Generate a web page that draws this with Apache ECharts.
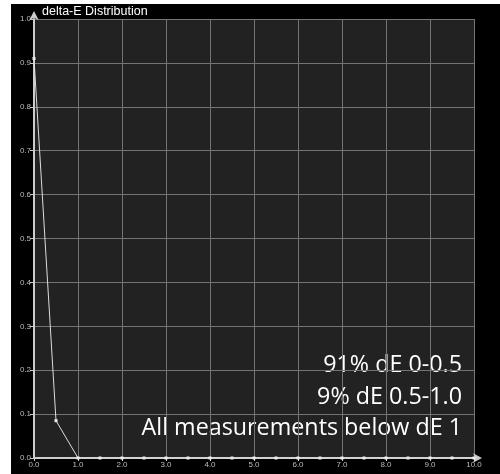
<!DOCTYPE html>
<html>
<head>
<meta charset="utf-8">
<script src="https://cdn.jsdelivr.net/npm/echarts@6/dist/echarts.min.js"></script>
<style>
html,body{margin:0;padding:0;background:#fff;}
#chart{position:absolute;left:11px;top:4px;width:489px;height:470px;background:#000;}
</style>
</head>
<body>
<div id="chart"></div>
<script>
var titleText = "delta-E Distribution";
var xValues = [0, 0.5, 1.0, 1.5, 2.0, 2.5, 3.0, 3.5, 4.0, 4.5, 5.0, 5.5, 6.0, 6.5, 7.0, 7.5, 8.0, 8.5, 9.0, 9.5, 10.0];
var yValues = [0.91, 0.085, 0, 0, 0, 0, 0, 0, 0, 0, 0, 0, 0, 0, 0, 0, 0, 0, 0, 0, 0];
var notes = ["91% dE 0-0.5", "9% dE 0.5-1.0", "All measurements below dE 1"];

var chart = echarts.init(document.getElementById('chart'), null, {renderer: 'canvas'});
var pts = xValues.map(function (x, i) { return [x, yValues[i]]; });
var noteY = [363, 394.5, 426];
chart.setOption({
  backgroundColor: '#000',
  animation: false,
  title: {
    text: titleText, left: 27, top: 0, padding: [1, 4],
    textStyle: {color: '#fff', fontSize: 12.5, fontWeight: 'normal', fontFamily: 'Liberation Sans, Arial, sans-serif'}
  },
  grid: {left: 23, right: 26, top: 15, bottom: 16, show: true, backgroundColor: '#222', borderWidth: 0},
  xAxis: {
    type: 'value', min: 0, max: 10, interval: 1,
    axisLine: {show: true, symbol: ['none', 'arrow'], symbolSize: [7, 9], symbolOffset: [0, 8], lineStyle: {color: '#ccc', width: 2}},
    axisTick: {show: true, length: 3, lineStyle: {color: '#ccc'}},
    axisLabel: {color: '#bbb', fontSize: 8, margin: 3, fontFamily: 'Liberation Sans, Arial, sans-serif',
      formatter: function (v) { return v.toFixed(1); }},
    splitLine: {show: true, lineStyle: {color: '#747474', width: 1}}
  },
  yAxis: {
    type: 'value', min: 0, max: 1, interval: 0.1,
    axisLine: {show: true, symbol: ['none', 'arrow'], symbolSize: [7, 9], symbolOffset: [0, 8], lineStyle: {color: '#ccc', width: 2}},
    axisTick: {show: true, length: 4, lineStyle: {color: '#ccc'}},
    axisLabel: {color: '#bbb', fontSize: 8, margin: 3, fontFamily: 'Liberation Sans, Arial, sans-serif',
      formatter: function (v) { return v.toFixed(1); }},
    splitLine: {show: true, lineStyle: {color: '#747474', width: 1}}
  },
  series: [{
    type: 'line', data: pts,
    symbol: 'rect', symbolSize: 3, showSymbol: true,
    lineStyle: {color: '#ddd', width: 1},
    itemStyle: {color: '#eee'}
  }],
  graphic: notes.map(function (t, i) {
    return {
      type: 'text', right: 38, top: noteY[i] - 4 - 9,
      style: {text: t, fill: '#fff', font: '23.3px "Open Sans", sans-serif', textAlign: 'right'}
    };
  })
});
</script>
</body>
</html>
